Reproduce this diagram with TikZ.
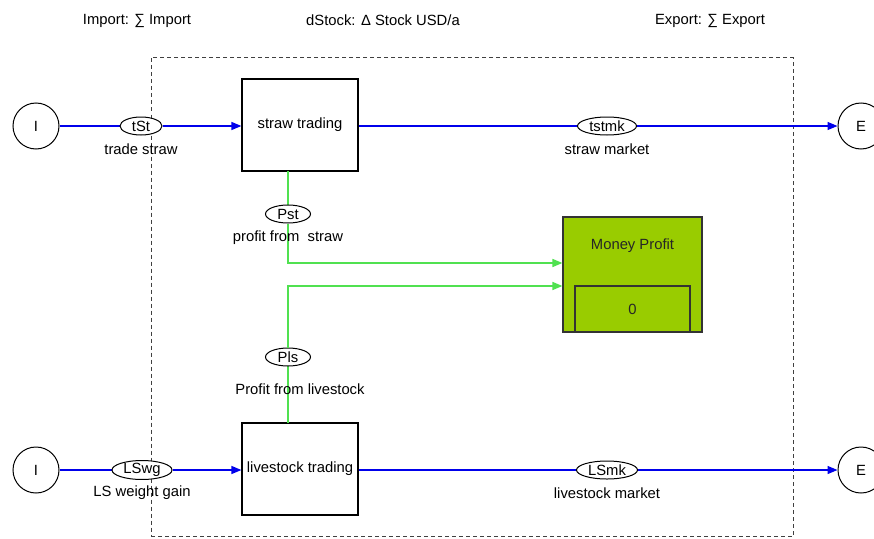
\documentclass[tikz,border=0pt]{standalone}
\usepackage{fontspec}
\setmainfont{Liberation Sans}
\usetikzlibrary{shapes.geometric,arrows.meta}
\definecolor{flowblue}{RGB}{0,0,235}
\definecolor{linkgreen}{RGB}{80,225,80}
\definecolor{stockgreen}{RGB}{153,204,0}
\tikzset{
  txt/.style={font=\fontsize{14.8}{17}\selectfont, inner sep=0pt},
  cloud/.style={circle, draw=black, line width=1pt, minimum size=46pt, inner sep=0pt, fill=white, txt},
  proc/.style={draw=black, line width=1.2pt, minimum width=116pt, minimum height=92pt, inner sep=0pt, fill=white, txt},
  conv/.style={ellipse, draw=black, line width=1pt, minimum height=18pt, inner sep=0pt, fill=white, txt},
  flow/.style={draw=flowblue, line width=1.3pt},
  flowarr/.style={flow, -{Triangle[length=10pt,width=8pt]}},
  link/.style={draw=linkgreen, line width=1.6pt},
  linkarr/.style={link, -{Triangle[length=10pt,width=8pt]}},
}
\begin{document}
\begin{tikzpicture}[x=1pt,y=-1pt]
\useasboundingbox (0,0) rectangle (874,538);
\fill[white] (0,0) rectangle (874,538);
% titles
\node[txt] (timp) at (137,20.5) {Import: ∑ Import};
\node[txt] (tst) at (383,20.5) {dStock: Δ Stock USD/a};
\node[txt] (texp) at (710,20.5) {Export: ∑ Export};
% boundary
\node[draw=black!75, dashed, dash pattern=on 4pt off 3pt, line width=1pt, minimum width=642pt, minimum height=479pt, inner sep=0pt] (bound) at (472,297) {};
% top row
\node[cloud] (i1) at (36,126) {I};
\node[proc] (straw) at (300,125) {straw trading};
\node[cloud] (e1) at (861,126) {E};
\draw[flow] (i1) -- (141,126) coordinate (c1);
\node[conv, minimum width=42pt] (tSt) at (141,126) {tSt};
\draw[flowarr] (tSt) -- (straw.west |- tSt);
\node[txt] (ltSt) at (141,149) {trade straw};
\draw[flowarr] (straw.east |- tSt) -- (e1);
\node[conv, minimum width=59pt] (tstmk) at (607,126) {tstmk};
\node[txt] (ltstmk) at (607,149) {straw market};
% bottom row
\node[cloud] (i2) at (36,470) {I};
\node[proc] (live) at (300,469) {livestock trading};
\node[cloud] (e2) at (861,470) {E};
\draw[flow] (i2) -- (142,470) coordinate (c2);
\node[conv, minimum width=60pt] (LSwg) at (142,470) {LSwg};
\draw[flowarr] (LSwg) -- (live.west |- LSwg);
\node[txt] (lLSwg) at (142,493) {LS weight gain};
\draw[flowarr] (live.east |- LSwg) -- (e2);
\node[conv, minimum width=61pt] (LSmk) at (607,470) {LSmk};
\node[txt] (lLSmk) at (607,493) {livestock market};
% money stock
\node[draw=black!80, line width=1.2pt, fill=stockgreen, minimum width=139pt, minimum height=115pt, inner sep=0pt] (money) at (632.5,274.5) {};
\node[txt, text=black!85] (mlab) at (632.5,246) {Money Profit};
\draw[black!80, line width=1.2pt] (575,332) -- (575,286) -- (690,286) -- (690,332);
\node[txt, text=black!85] (mval) at (632.5,309) {0};
\coordinate (m1) at (money.west |- 0,263);
\coordinate (m2) at (money.west |- 0,286);
% links
\coordinate (s1) at (288,171);
\coordinate (s2) at (288,423);
\draw[link] (s1) -- (288,205);
\node[conv, minimum width=45pt] (Pst) at (288,214) {Pst};
\draw[linkarr] (Pst) |- (m1);
\node[txt] (lPst) at (288,238) {profit from\ \ straw};
\draw[link] (s2) -- (288,366);
\node[conv, minimum width=45pt] (Pls) at (288,357) {Pls};
\draw[linkarr] (Pls) |- (m2);
\node[txt] (lPls) at (300,389) {Profit from livestock};
\end{tikzpicture}
\end{document}
